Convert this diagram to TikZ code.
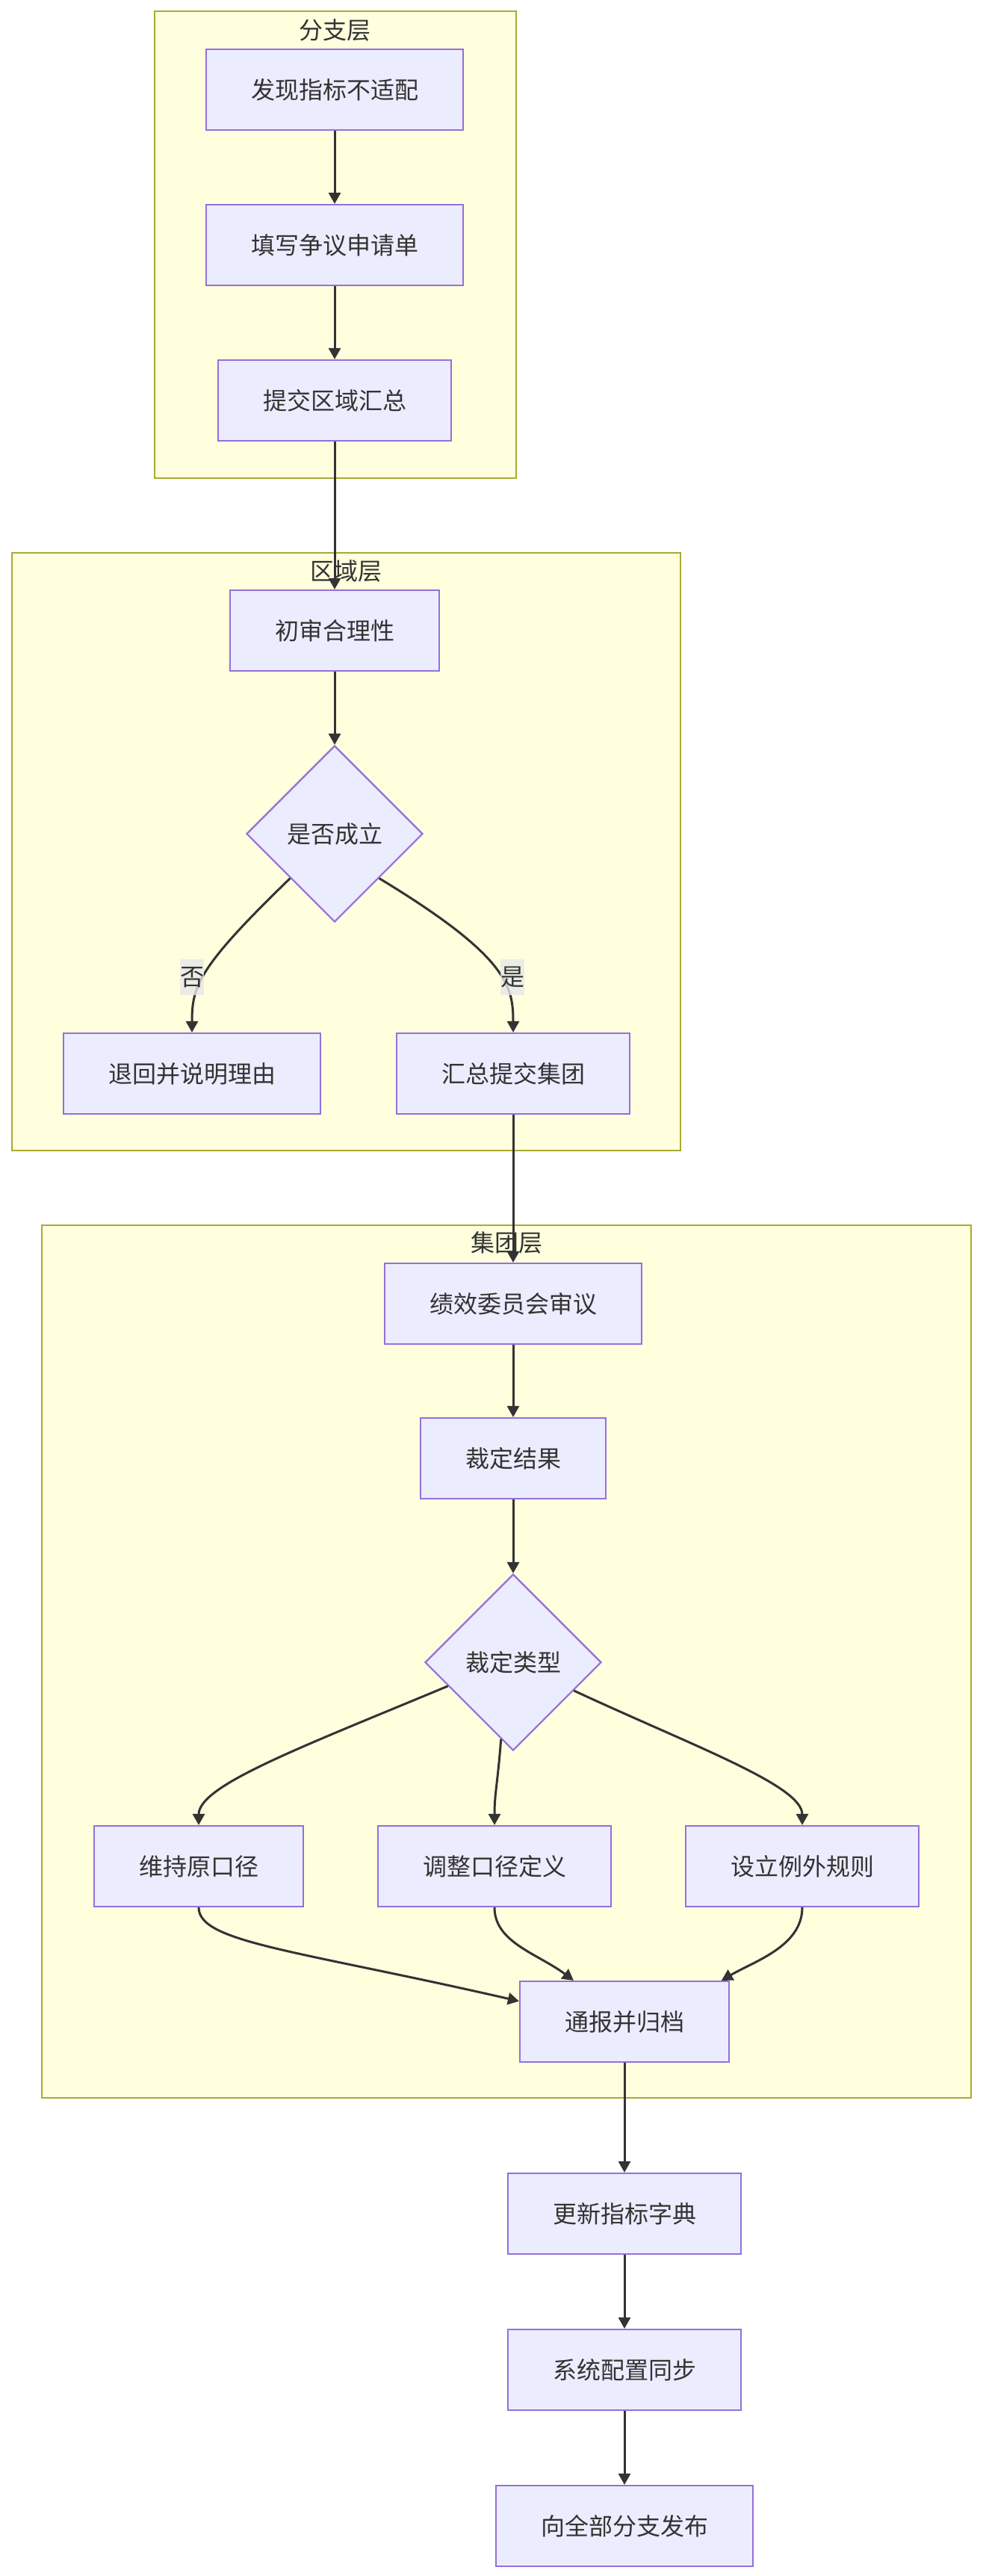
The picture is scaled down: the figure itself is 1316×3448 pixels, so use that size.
\documentclass[tikz,border=0pt]{standalone}
\usepackage{fontspec}
\setmainfont{Noto Sans CJK SC}
\usepackage{xcolor}
\definecolor{mynode}  {HTML}{ECECFF}
\definecolor{mypurple}{HTML}{9370DB}
\definecolor{mylayer} {HTML}{FFFFDE}
\definecolor{myolive} {HTML}{AAAA33}
\definecolor{mydark}  {HTML}{333333}
\definecolor{mygray}  {HTML}{E8E8E8}
\usetikzlibrary{arrows.meta, shapes.geometric}

\begin{document}
\begin{tikzpicture}[x=0.5pt, y=-0.5pt,
        every node/.style={font=\fontsize{16pt}{19pt}\selectfont, text=mydark},
        box/.style={rectangle, draw=mypurple, fill=mynode, line width=1.1pt, inner xsep=30pt, inner ysep=0pt, minimum height=54pt},
        choice/.style={diamond, draw=mypurple, fill=mynode, line width=1.1pt, inner sep=0pt, minimum width=118pt, minimum height=118pt},
        layer/.style={draw=myolive, fill=mylayer, line width=1.1pt},
        flow/.style={draw=mydark, line width=1.5pt, -{Triangle[length=7.5pt, width=8pt]}},
        tag/.style={fill=mygray, fill opacity=0.8, text opacity=1, inner sep=0pt, minimum width=16pt, minimum height=24pt}]
        \fill[white] (0, 0) rectangle (1316, 3448);
        \useasboundingbox (0, 0) rectangle (1316, 3448);

        \draw[layer] (207, 15) rectangle (691, 640);
        \draw[layer] (16, 740) rectangle (911, 1540);
        \draw[layer] (56, 1640) rectangle (1300, 2808);
        \node (branch) at (448, 40) {分支层};
        \node (region) at (463, 764) {区域层};
        \node (group) at (678, 1663) {集团层};

        \node[box] (find) at (448, 120) {发现指标不适配};
        \node[box] (form) at (448, 328) {填写争议申请单};
        \node[box] (submit) at (448, 536) {提交区域汇总};
        \node[box] (check) at (448, 844) {初审合理性};
        \node[choice] (valid) at (448, 1116) {是否成立};
        \node[box] (reject) at (257, 1437) {退回并说明理由};
        \node[box] (collect) at (687, 1437) {汇总提交集团};
        \node[box] (review) at (687, 1745) {绩效委员会审议};
        \node[box] (ruling) at (687, 1952) {裁定结果};
        \node[choice] (kind) at (687, 2225) {裁定类型};
        \node[box] (keep) at (266, 2498) {维持原口径};
        \node[box] (adjust) at (662, 2498) {调整口径定义};
        \node[box] (except) at (1074, 2498) {设立例外规则};
        \node[box] (notify) at (836, 2706) {通报并归档};
        \node[box] (dict) at (836, 2963) {更新指标字典};
        \node[box] (sync) at (836, 3172) {系统配置同步};
        \node[box] (publish) at (836, 3381) {向全部分支发布};

        \draw[flow] (find) -- (form);
        \draw[flow] (form) -- (submit);
        \draw[flow] (submit) -- (check);
        \draw[flow] (check) -- (valid);
        \draw[flow] (valid.south west) .. controls (265, 1295) and (257, 1320) .. (reject.north);
        \draw[flow] (valid.south east) .. controls (680, 1280) and (687, 1320) .. (collect.north);
        \draw[flow] (collect) -- (review);
        \draw[flow] (review) -- (ruling);
        \draw[flow] (ruling) -- (kind);
        \draw[flow] (kind.200) .. controls (400, 2340) and (266, 2390) .. (keep.north);
        \draw[flow] (kind.261) .. controls (666, 2390) and (662, 2400) .. (adjust.north);
        \draw[flow] (kind.335) .. controls (930, 2338) and (1074, 2390) .. (except.north);
        \draw[flow] (keep.south) .. controls (266, 2600) and (396, 2610) .. (notify.169);
        \draw[flow] (adjust.south) .. controls (662, 2600) and (720, 2615) .. (notify.141.5);
        \draw[flow] (except.south) .. controls (1074, 2605) and (1010, 2625) .. (notify.23);
        \draw[flow] (notify) -- (dict);
        \draw[flow] (dict) -- (sync);
        \draw[flow] (sync) -- (publish);

        \node[tag] (no) at (257, 1308) {否};
        \node[tag] (yes) at (686, 1308) {是};
    \end{tikzpicture}
\end{document}
